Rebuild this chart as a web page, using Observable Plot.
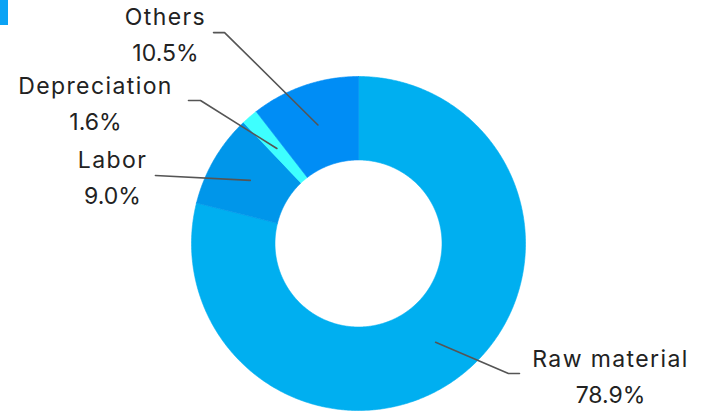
<!DOCTYPE html>
<html><head><meta charset="utf-8">
<script src="https://cdn.jsdelivr.net/npm/d3@7"></script>
<script src="https://cdn.jsdelivr.net/npm/@observablehq/plot@0.6"></script>
<style>
body{margin:0;background:#fff;}
#c{position:relative;width:705px;height:413px;overflow:hidden;}
#c .corner{position:absolute;left:0;top:0;width:8px;height:25px;background:#0AA3F5;}
#c svg text tspan:first-child{letter-spacing:1.4px;}
#c svg text tspan:last-child{letter-spacing:0px;}
</style></head>
<body><div id="c"><div class="corner"></div></div>
<script>
// ---- data ----
const categories = ["Raw material", "Labor", "Depreciation", "Others"];
const shares = [78.9, 9.0, 1.6, 10.5];
const pctLabels = ["78.9%", "9.0%", "1.6%", "10.5%"];
const colors = ["#00AFF0", "#0096EA", "#3EFFFF", "#008DF5"];

// ---- layout (in radius units, relative to the donut centre) ----
const W = 705, H = 413, CX = 358, CY = 243, R = 167;
const innerR = 0.5, lineStartR = 0.75;
// elbow and tail end of each leader line, and label centre
const elbows = [[0.898, -0.778], [-1.216, 0.407], [-0.946, 0.856], [-0.802, 1.263]];
const tails  = [[0.964, -0.778], [-1.216, 0.407], [-1.018, 0.856], [-0.868, 1.263]];
const labelXY = [[1.509, -0.778], [-1.473, 0.416], [-1.575, 0.859], [-1.156, 1.270]];

const total = d3.sum(shares);
let acc = 0;
const slices = shares.map((v, i) => {
  const a0 = acc / total * 2 * Math.PI; acc += v;
  const a1 = acc / total * 2 * Math.PI;
  return {i, a0, a1, mid: (a0 + a1) / 2};
});
const pt = (r, a) => ({x: r * Math.sin(a), y: r * Math.cos(a)});

function ring(s) {
  const n = Math.max(4, Math.ceil((s.a1 - s.a0) / (Math.PI / 360)));
  const pts = [];
  for (let k = 0; k <= n; k++) pts.push(pt(1, s.a0 + (s.a1 - s.a0) * k / n));
  for (let k = n; k >= 0; k--) pts.push(pt(innerR, s.a0 + (s.a1 - s.a0) * k / n));
  pts.push(pts[0]);
  return pts;
}

const leaders = slices.map(s => {
  const p0 = pt(lineStartR, s.mid);
  return [p0, {x: elbows[s.i][0], y: elbows[s.i][1]}, {x: tails[s.i][0], y: tails[s.i][1]}];
});

const labels = slices.map(s => ({
  x: labelXY[s.i][0], y: labelXY[s.i][1],
  text: categories[s.i] + "\n" + pctLabels[s.i]
}));

const marks = [];
slices.forEach(s => marks.push(Plot.line(ring(s), {x: "x", y: "y", fill: colors[s.i], stroke: colors[s.i], strokeWidth: 0.6, curve: "linear"})));
leaders.forEach(l => marks.push(Plot.line(l, {x: "x", y: "y", stroke: "#555", strokeWidth: 1.6})));
marks.push(Plot.text(labels, {x: "x", y: "y", text: "text", fontSize: 23, lineHeight: 1.565, fill: "#222", textAnchor: "middle"}));

const chart = Plot.plot({
  width: W, height: H,
  margin: 0,
  x: {domain: [-CX / R, (W - CX) / R], axis: null},
  y: {domain: [-(H - CY) / R, CY / R], axis: null},
  style: {fontFamily: "Inter, 'Open Sans', sans-serif", background: "transparent"},
  marks
});
document.getElementById("c").appendChild(chart);
</script>
</body></html>
